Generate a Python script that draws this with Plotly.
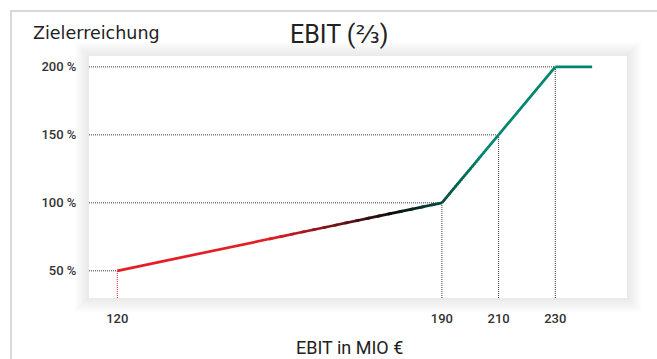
import numpy as np
import plotly.graph_objects as go

# EBIT target curve: EBIT in MIO € vs. target achievement in %
ebit = [120, 190, 210, 230, 243]
achievement = [50, 100, 150, 200, 200]
x_tick_values = [120, 190, 210, 230]
y_tick_values = [50, 100, 150, 200]
y_tick_labels = [f"{v} %" for v in y_tick_values]

W, H = 657, 359
M_L, M_R, M_T, M_B = 89, 30, 56, 61
PLOT_W = W - M_L - M_R
PLOT_H = H - M_T - M_B

# broken x axis: the span below 190 is drawn wider than the rest
BREAK = 190
STRETCH = 1.636


def axis_pos(v):
    v = np.asarray(v, dtype=float)
    return np.where(v >= BREAK, v, BREAK - (BREAK - v) * STRETCH)


X_RANGE = [65.5, 255.3]
Y_RANGE = [30, 208]


def px_x(px):
    return (px - M_L) / PLOT_W


def px_y(py):
    return (H - M_B - py) / PLOT_H


# colour ramp along the curve: red -> black -> teal
RED = (228, 30, 38)
BLACK = (12, 10, 12)
TEAL = (0, 134, 110)
STOPS = [(0.0, RED), (0.32, RED), (0.58, BLACK), (0.77, TEAL), (1.0, TEAL)]


def ramp(f):
    f = min(max(f, 0.0), 1.0)
    for (f0, c0), (f1, c1) in zip(STOPS[:-1], STOPS[1:]):
        if f <= f1:
            t = 0 if f1 == f0 else (f - f0) / (f1 - f0)
            c = [round(a + (b - a) * t) for a, b in zip(c0, c1)]
            return f"rgb({c[0]},{c[1]},{c[2]})"
    c = STOPS[-1][1]
    return f"rgb({c[0]},{c[1]},{c[2]})"


xs = axis_pos(ebit)
ys = np.asarray(achievement, dtype=float)
x_start, x_end = xs[0], xs[-1]

fig = go.Figure()

GUIDE = "#3a3a3a"
GUIDE_RED = "#e4252d"

# dotted guides from each threshold point to the axes
for i, (xv, yv) in enumerate(zip(xs[:4], ys[:4])):
    fig.add_trace(go.Scatter(
        x=[X_RANGE[0], xv], y=[yv, yv], mode="lines",
        line=dict(color=GUIDE, width=1, dash="1px,1px"),
        hoverinfo="skip", showlegend=False))
    fig.add_trace(go.Scatter(
        x=[xv, xv], y=[Y_RANGE[0], yv], mode="lines",
        line=dict(color=GUIDE_RED if i == 0 else GUIDE, width=1, dash="1px,1px"),
        hoverinfo="skip", showlegend=False))

# the curve itself, split into short pieces so it can carry the colour ramp;
# runs of one colour are merged and pieces overlap slightly to avoid seams
PIECES = 30
OVERLAP = 0.35
for i in range(len(xs) - 1):
    t = np.linspace(0, 1, PIECES + 1)
    seg_x = xs[i] + (xs[i + 1] - xs[i]) * t
    cols = [ramp((0.5 * (seg_x[k] + seg_x[k + 1]) - x_start) / (x_end - x_start))
            for k in range(PIECES)]
    runs = []
    for k, c in enumerate(cols):
        if runs and runs[-1][2] == c:
            runs[-1][1] = k + 1
        else:
            runs.append([k, k + 1, c])
    step = 1.0 / PIECES
    for a, b, c in runs:
        t0 = a * step
        t1 = min(1.0, b * step + (OVERLAP * step if b < PIECES else 0))
        px0 = xs[i] + (xs[i + 1] - xs[i]) * t0
        px1 = xs[i] + (xs[i + 1] - xs[i]) * t1
        py0 = ys[i] + (ys[i + 1] - ys[i]) * t0
        py1 = ys[i] + (ys[i + 1] - ys[i]) * t1
        fig.add_trace(go.Scatter(
            x=[px0, px1], y=[py0, py1], mode="lines",
            line=dict(color=c, width=2.7),
            hoverinfo="skip", showlegend=False))

# soft shadow behind the white panel, then the panel
shapes = []
for s in range(1, 8):
    shapes.append(dict(
        type="rect", xref="paper", yref="paper", layer="below",
        x0=px_x(M_L - 2 * s), x1=px_x(W - M_R + 2 * s),
        y0=px_y(H - M_B + 2 * s), y1=px_y(M_T - 2 * s),
        fillcolor="rgba(0,0,0,0.011)", line=dict(width=0)))
shapes.append(dict(
    type="rect", xref="paper", yref="paper", layer="below",
    x0=0, x1=1, y0=0, y1=1, fillcolor="white", line=dict(width=0)))

# outer frame lines
FRAME = "#d8d8d8"
shapes.append(dict(type="line", xref="paper", yref="paper",
                   x0=px_x(10), x1=px_x(W), y0=px_y(11), y1=px_y(11),
                   line=dict(color=FRAME, width=2)))
shapes.append(dict(type="line", xref="paper", yref="paper",
                   x0=px_x(11), x1=px_x(11), y0=px_y(10), y1=px_y(H),
                   line=dict(color=FRAME, width=2)))

FONT = "Roboto, 'DejaVu Sans', sans-serif"
WIDE_FONT = "'DejaVu Sans', Roboto, sans-serif"
TEXT = "#222222"

annotations = [
    dict(text="Zielerreichung", xref="paper", yref="paper",
         x=px_x(31), y=px_y(33), xanchor="left", yanchor="middle",
         showarrow=False, font=dict(family=WIDE_FONT, size=17.5, color=TEXT)),
    dict(text="EBIT (⅔)", xref="paper", yref="paper",
         x=px_x(339), y=px_y(34.5), xanchor="center", yanchor="middle",
         showarrow=False, font=dict(family=FONT, size=25, color=TEXT)),
    dict(text="EBIT in MIO €", xref="paper", yref="paper",
         x=px_x(349), y=px_y(347), xanchor="center", yanchor="middle",
         showarrow=False, font=dict(family=FONT, size=18, color=TEXT)),
]

fig.update_layout(
    width=W, height=H,
    margin=dict(l=M_L, r=M_R, t=M_T, b=M_B, pad=0),
    paper_bgcolor="white",
    plot_bgcolor="rgba(0,0,0,0)",
    shapes=shapes,
    annotations=annotations,
    showlegend=False,
    font=dict(family=FONT, color=TEXT),
)

fig.update_xaxes(
    range=X_RANGE, showgrid=False, zeroline=False, showline=False,
    tickmode="array", tickvals=axis_pos(x_tick_values).tolist(),
    ticktext=[str(v) for v in x_tick_values],
    ticks="outside", ticklen=8, tickcolor="rgba(0,0,0,0)",
    tickfont=dict(family=FONT, size=13, color="#333333", weight=500),
    fixedrange=True,
)
fig.update_yaxes(
    range=Y_RANGE, showgrid=False, zeroline=False, showline=False,
    tickmode="array", tickvals=y_tick_values, ticktext=y_tick_labels,
    ticks="outside", ticklen=9, tickcolor="rgba(0,0,0,0)",
    tickfont=dict(family=FONT, size=13, color="#333333", weight=500),
    fixedrange=True,
)

fig.write_html("out.html", config=dict(displayModeBar=False))
